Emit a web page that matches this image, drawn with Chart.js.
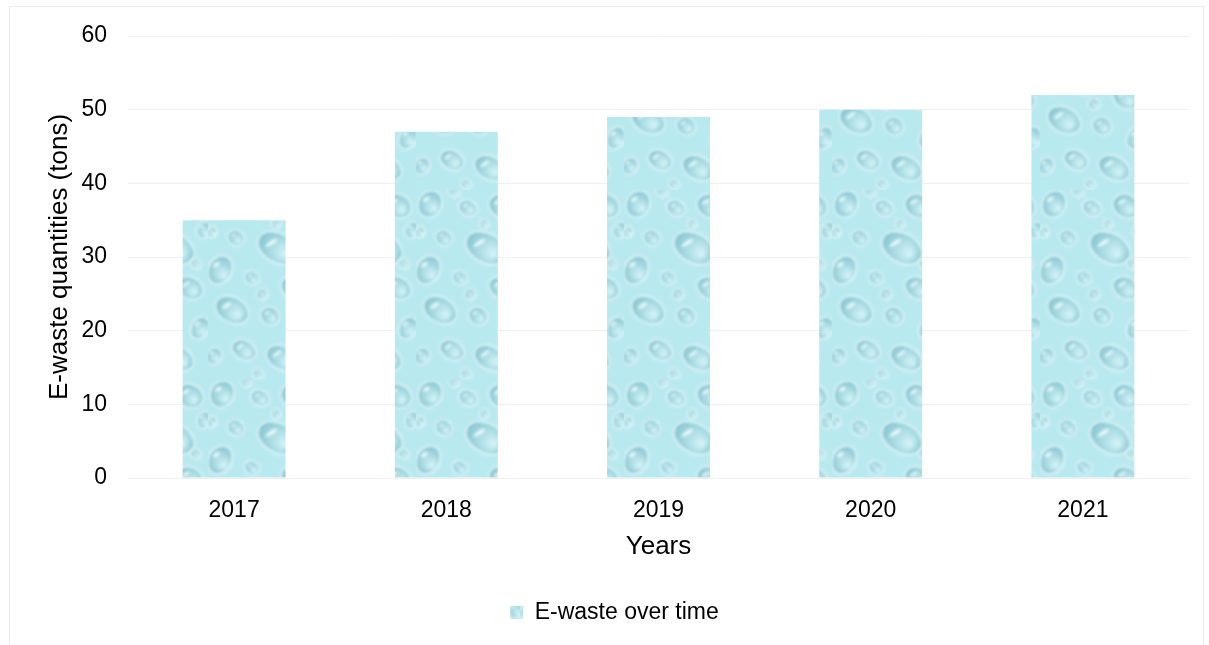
<!DOCTYPE html>
<html>
<head>
<meta charset="utf-8">
<script src="https://cdn.jsdelivr.net/npm/chart.js@4/dist/chart.umd.min.js"></script>
<style>
  body { margin: 0; background: #fff; }
  #wrap { position: relative; width: 1209px; height: 645px; }
  #frame { position: absolute; left: 9px; top: 6px; width: 1195px; height: 660px; border: 1px solid #ececec; box-sizing: border-box; }
  canvas { position: absolute; left: 0; top: 0; }
</style>
</head>
<body>
<div id="wrap">
  <div id="frame"></div>
  <canvas id="chart" width="1209" height="645"></canvas>
</div>
<script>
const years = ["2017", "2018", "2019", "2020", "2021"];
const ewaste = [35, 47, 49, 50, 52];
const seriesName = "E-waste over time";

// water droplet texture for the bars
function dropPattern() {
  const c = document.createElement("canvas");
  c.width = 104; c.height = 190;
  const g = c.getContext("2d");
  g.fillStyle = "#b8e9ef";
  g.fillRect(0, 0, c.width, c.height);
  const drops = [
    [14, 14, 12, 14], [52, 18, 10, 8], [86, 16, 14, 12], [28, 48, 9, 8],
    [70, 58, 22, 15], [100, 40, 7, 9], [12, 80, 12, 15], [44, 88, 8, 7],
    [86, 98, 14, 11], [24, 120, 18, 13], [62, 126, 10, 9], [96, 138, 9, 12],
    [36, 160, 13, 10], [74, 168, 17, 12], [6, 166, 8, 9], [54, 104, 6, 6],
    [38, 2, 6, 5], [68, 34, 5, 5], [4, 42, 5, 6], [92, 74, 6, 5], [50, 184, 6, 5]
  ];
  g.filter = "blur(1.4px)";
  drops.forEach(([x, y, rx, ry]) => {
    const grad = g.createRadialGradient(x + rx * 0.35, y + ry * 0.4, 1, x, y, Math.max(rx, ry));
    grad.addColorStop(0, "#d2f3f6");
    grad.addColorStop(0.6, "#a0d6df");
    grad.addColorStop(1, "#84c2cd");
    g.fillStyle = grad;
    g.beginPath();
    g.ellipse(x, y, rx, ry, 0.5, 0, Math.PI * 2);
    g.fill();
    g.strokeStyle = "rgba(228,250,252,0.9)";
    g.lineWidth = 2.2;
    g.stroke();
    g.fillStyle = "rgba(242,253,254,0.85)";
    g.beginPath();
    g.ellipse(x - rx * 0.3, y - ry * 0.35, rx * 0.32, ry * 0.14, -0.6, 0, Math.PI * 2);
    g.fill();
  });
  return g.createPattern(c, "repeat");
}

const ctx = document.getElementById("chart").getContext("2d");
const pattern = dropPattern();
const font = "'Liberation Sans', Arial, sans-serif";

new Chart(ctx, {
  type: "bar",
  data: {
    labels: years,
    datasets: [{
      label: seriesName,
      data: ewaste,
      backgroundColor: pattern,
      borderWidth: 0,
      categoryPercentage: 0.97,
      barPercentage: 0.5
    }]
  },
  options: {
    responsive: false,
    animation: false,
    layout: { padding: { left: 40, right: 20, top: 36, bottom: 11 } },
    plugins: {
      legend: {
        position: "bottom",
        labels: {
          font: { family: font, size: 23 },
          color: "#000",
          boxWidth: 13,
          boxHeight: 13,
          padding: 20
        }
      },
      tooltip: { enabled: false }
    },
    scales: {
      x: {
        afterFit: s => { s.height = 103; },
        grid: { display: false, drawTicks: false },
        border: { display: false },
        ticks: { font: { family: font, size: 23 }, color: "#000", padding: 19 },
        title: { display: true, text: "Years", font: { family: font, size: 26 }, color: "#000", padding: { top: 0, bottom: 19 } }
      },
      y: {
        afterFit: s => { s.width = 88; },
        min: 0,
        max: 60,
        ticks: { stepSize: 10, font: { family: font, size: 23 }, color: "#000", padding: 21 },
        grid: { color: "#efefef", drawTicks: false },
        border: { display: false },
        title: { display: true, text: "E-waste quantities (tons)", font: { family: font, size: 26 }, color: "#000", padding: { top: 4, bottom: 0 } }
      }
    }
  }
});
</script>
</body>
</html>
